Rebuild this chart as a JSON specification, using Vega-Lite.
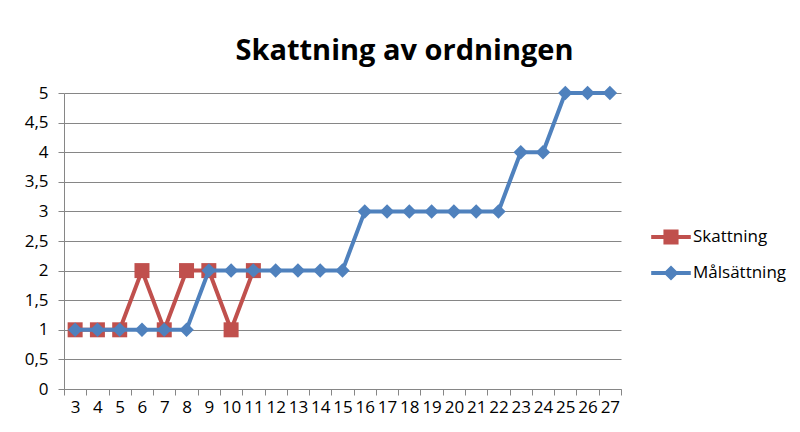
{
  "$schema": "https://vega.github.io/schema/vega-lite/v6.json",
  "width": 557,
  "height": 296,
  "autosize": {"type": "none"},
  "padding": {"left": 64, "top": 93, "right": 179, "bottom": 43},
  "background": "white",
  "config": {
    "locale": {"number": {"decimal": ",", "thousands": " ", "grouping": [3], "currency": ["", " kr"]}},
    "view": {"stroke": null},
    "font": "Open Sans"
  },
  "title": {
    "text": "Skattning av ordningen",
    "font": "Open Sans",
    "fontSize": 29,
    "fontWeight": "bold",
    "color": "#000000",
    "anchor": "middle",
    "frame": "group",
    "dx": 62,
    "offset": -5,
    "baseline": "alphabetic"
  },
  "data": {
    "values": [
      {"serie": "Skattning", "nr": 3, "varde": 1},
      {"serie": "Skattning", "nr": 4, "varde": 1},
      {"serie": "Skattning", "nr": 5, "varde": 1},
      {"serie": "Skattning", "nr": 6, "varde": 2},
      {"serie": "Skattning", "nr": 7, "varde": 1},
      {"serie": "Skattning", "nr": 8, "varde": 2},
      {"serie": "Skattning", "nr": 9, "varde": 2},
      {"serie": "Skattning", "nr": 10, "varde": 1},
      {"serie": "Skattning", "nr": 11, "varde": 2},
      {"serie": "Målsättning", "nr": 3, "varde": 1},
      {"serie": "Målsättning", "nr": 4, "varde": 1},
      {"serie": "Målsättning", "nr": 5, "varde": 1},
      {"serie": "Målsättning", "nr": 6, "varde": 1},
      {"serie": "Målsättning", "nr": 7, "varde": 1},
      {"serie": "Målsättning", "nr": 8, "varde": 1},
      {"serie": "Målsättning", "nr": 9, "varde": 2},
      {"serie": "Målsättning", "nr": 10, "varde": 2},
      {"serie": "Målsättning", "nr": 11, "varde": 2},
      {"serie": "Målsättning", "nr": 12, "varde": 2},
      {"serie": "Målsättning", "nr": 13, "varde": 2},
      {"serie": "Målsättning", "nr": 14, "varde": 2},
      {"serie": "Målsättning", "nr": 15, "varde": 2},
      {"serie": "Målsättning", "nr": 16, "varde": 3},
      {"serie": "Målsättning", "nr": 17, "varde": 3},
      {"serie": "Målsättning", "nr": 18, "varde": 3},
      {"serie": "Målsättning", "nr": 19, "varde": 3},
      {"serie": "Målsättning", "nr": 20, "varde": 3},
      {"serie": "Målsättning", "nr": 21, "varde": 3},
      {"serie": "Målsättning", "nr": 22, "varde": 3},
      {"serie": "Målsättning", "nr": 23, "varde": 4},
      {"serie": "Målsättning", "nr": 24, "varde": 4},
      {"serie": "Målsättning", "nr": 25, "varde": 5},
      {"serie": "Målsättning", "nr": 26, "varde": 5},
      {"serie": "Målsättning", "nr": 27, "varde": 5}
    ]
  },
  "encoding": {
    "x": {
      "field": "nr",
      "type": "ordinal",
      "scale": {
        "type": "band",
        "domain": [3,4,5,6,7,8,9,10,11,12,13,14,15,16,17,18,19,20,21,22,23,24,25,26,27],
        "paddingInner": 0,
        "paddingOuter": 0
      },
      "axis": {
        "title": null,
        "labelAngle": 0,
        "tickBand": "extent",
        "grid": false,
        "domainColor": "#868686",
        "tickColor": "#868686",
        "tickSize": 6,
        "labelFont": "Open Sans",
        "labelFontSize": 17,
        "labelColor": "#000000",
        "labelPadding": 4,
        "labelOverlap": false
      }
    },
    "y": {
      "field": "varde",
      "type": "quantitative",
      "scale": {"domain": [0, 5], "nice": false},
      "axis": {
        "title": null,
        "values": [0, 0.5, 1, 1.5, 2, 2.5, 3, 3.5, 4, 4.5, 5],
        "format": ".1~f",
        "grid": true,
        "gridColor": "#868686",
        "domainColor": "#868686",
        "tickColor": "#868686",
        "tickSize": 6,
        "labelFont": "Open Sans",
        "labelFontSize": 17,
        "labelColor": "#000000",
        "labelPadding": 10
      }
    },
    "color": {
      "field": "serie",
      "type": "nominal",
      "scale": {"domain": ["Skattning", "Målsättning"], "range": ["#C0504D", "#4F81BD"]},
      "legend": {
        "title": null,
        "orient": "none",
        "legendX": 589,
        "legendY": 126,
        "labelFont": "Open Sans",
        "labelFontSize": 17,
        "labelColor": "#000000",
        "labelOffset": 4,
        "symbolSize": 1296,
        "rowPadding": 10,
        "padding": 0,
        "encode": {
          "symbols": {
            "update": {
              "shape": {"signal": "datum.value === 'Skattning' ? 'M-1.1,-0.11H1.1V0.11H-1.1Z M-0.42,-0.42H0.42V0.42H-0.42Z' : 'M-1.1,-0.11H1.1V0.11H-1.1Z M0,-0.42L0.42,0L0,0.42L-0.42,0Z'"},
              "fill": {"signal": "datum.value === 'Skattning' ? '#C0504D' : '#4F81BD'"},
              "stroke": {"value": "transparent"},
              "strokeWidth": {"value": 0},
              "opacity": {"value": 1}
            }
          }
        }
      }
    }
  },
  "layer": [
    {
      "transform": [{"filter": "datum.serie == 'Skattning'"}],
      "mark": {"type": "line", "strokeWidth": 4, "point": {"shape": "square", "size": 225, "filled": true, "opacity": 1}}
    },
    {
      "transform": [{"filter": "datum.serie == 'Målsättning'"}],
      "mark": {"type": "line", "strokeWidth": 4, "point": {"shape": "diamond", "size": 210, "filled": true, "opacity": 1}}
    }
  ]
}
